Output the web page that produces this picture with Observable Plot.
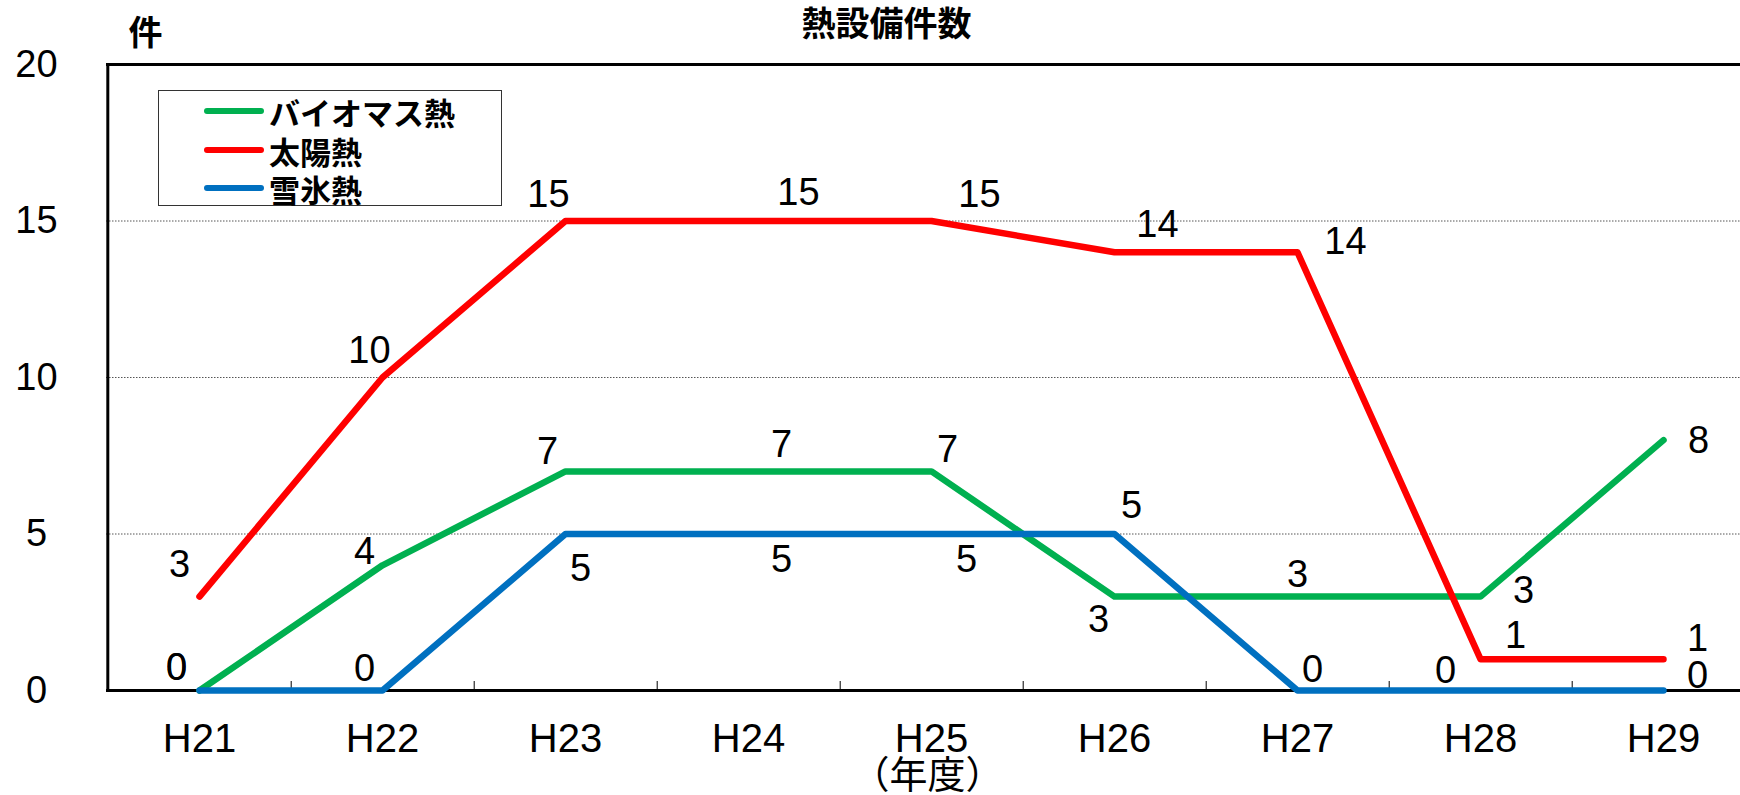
<!DOCTYPE html>
<html>
<head>
<meta charset="utf-8">
<script src="https://cdn.jsdelivr.net/npm/d3@7"></script>
<script src="https://cdn.jsdelivr.net/npm/@observablehq/plot@0.6"></script>
<style>
  body { margin: 0; background: #fff; }
  #wrap { position: relative; width: 1740px; height: 795px; overflow: hidden; }
  #legend { position: absolute; left: 158px; top: 90px; width: 344px; height: 116px;
            border: 1.5px solid #333; background: #fff; box-sizing: border-box; }
  .lg-row { position: absolute; left: 0; height: 38px; display: flex; align-items: center; }
  .lg-row span { font-family: "Noto Sans CJK JP", sans-serif; font-weight: 700; font-size: 31px; color: #000; }
</style>
</head>
<body>
<div id="wrap"><div id="legend"></div></div>
<script>
// ---- data ----
const years = ["H21", "H22", "H23", "H24", "H25", "H26", "H27", "H28", "H29"];
const seriesNames = ["バイオマス熱", "太陽熱", "雪氷熱"];
const biomass = [0, 4, 7, 7, 7, 3, 3, 3, 8];
const solar   = [3, 10, 15, 15, 15, 14, 14, 1, 1];
const snowIce = [0, 0, 5, 5, 5, 5, 0, 0, 0];
const yTicks = [0, 5, 10, 15, 20];
const gridTicks = [5, 10, 15];
const titleText = "熱設備件数";
const yUnit = "件";
const xUnit = "（年度）";

// ---- styles ----
const seriesColors = ["#00B050", "#FF0000", "#0070C0"];
// label offsets (px) per series, per year
const labelOffsets = [
  [[-23,-23],[-18,-13],[-18,-20],[33,-27],[16,-22],[-16,23],[0,-22],[43,-6],[35,1]],
  [[-20,-32],[-13,-27],[-17,-26],[50,-28],[48,-26],[43,-27],[48,-10],[35,-23],[34,-20]],
  [[-23,-23],[-18,-22],[15,35],[33,26],[35,26],[17,-28],[15,-21],[-35,-20],[34,-15]]
];

const seriesValues = [biomass, solar, snowIce];
const rows = [];
seriesValues.forEach((vals, si) => vals.forEach((v, j) =>
  rows.push({series: seriesNames[si], year: years[j], value: v, si, j})));

const halfBand = (1664.6 - 197.5) / (years.length - 1) / 2;
const numFont = "'Liberation Sans', Arial, sans-serif";
const cjkFont = "'Noto Sans CJK JP', sans-serif";

const labelMarks = rows.map(r => Plot.text([r], {
  x: "year", y: "value", text: d => String(d.value),
  dx: labelOffsets[r.si][r.j][0], dy: labelOffsets[r.si][r.j][1],
  fontSize: 38, fontFamily: numFont, fill: "#000"
}));

const chart = Plot.plot({
  width: 1740, height: 795,
  marginLeft: 106, marginRight: 0, marginTop: 64, marginBottom: 105,
  x: {type: "point", domain: years, range: [197.5, 1664.6], padding: 0},
  y: {domain: [0, 20], axis: null},
  color: {domain: seriesNames, range: seriesColors},
  style: {fontFamily: numFont, fontSize: "38px", color: "#000", background: "#fff", overflow: "visible"},
  marks: [
    Plot.ruleY(gridTicks, {stroke: "#555", strokeWidth: 1, strokeDasharray: "1.5,1.5"}),
    Plot.ruleX(years.slice(0, -1), {dx: halfBand, insetTop: 626 - 9, stroke: "#000", strokeWidth: 1}),
    Plot.ruleY([0, 20], {stroke: "#000", strokeWidth: 3}),
    Plot.ruleX([years[0]], {dx: -halfBand, stroke: "#000", strokeWidth: 3}),
    Plot.axisX({tickSize: 0, tickPadding: 33, fontSize: 40, fontFamily: numFont, label: null}),
    Plot.text(yTicks, {y: d => d, text: d => String(d), frameAnchor: "left", dx: -70,
      textAnchor: "middle", lineAnchor: "middle", fontSize: 38, fontFamily: numFont}),
    Plot.line(rows, {x: "year", y: "value", z: "series", stroke: "series",
      strokeWidth: 6.5, strokeLinecap: "round", strokeLinejoin: "round"}),
    ...labelMarks,
    Plot.text([titleText], {frameAnchor: "top", lineAnchor: "middle", dx: 886 - 923, dy: -39,
      fontFamily: cjkFont, fontWeight: "bold", fontSize: 34}),
    Plot.text([yUnit], {frameAnchor: "top-left", lineAnchor: "middle", dx: 39, dy: -30, textAnchor: "middle",
      fontFamily: cjkFont, fontWeight: "bold", fontSize: 34}),
    Plot.text([xUnit], {frameAnchor: "bottom", lineAnchor: "middle", dx: 4, dy: 85,
      fontFamily: cjkFont, fontSize: 38})
  ]
});
const wrap = document.getElementById("wrap");
wrap.insertBefore(chart, wrap.firstChild);

// ---- legend ----
const legend = d3.select("#legend");
const rowTops = [1, 40, 78];
seriesNames.forEach((name, i) => {
  const row = legend.append("div").attr("class", "lg-row").style("top", rowTops[i] + "px");
  const svg = row.append("svg").attr("width", 110).attr("height", 38);
  svg.append("line").attr("x1", 48).attr("x2", 102).attr("y1", 19).attr("y2", 19)
    .attr("stroke", seriesColors[i]).attr("stroke-width", 6).attr("stroke-linecap", "round");
  row.append("span").text(name);
});
</script>
</body>
</html>
